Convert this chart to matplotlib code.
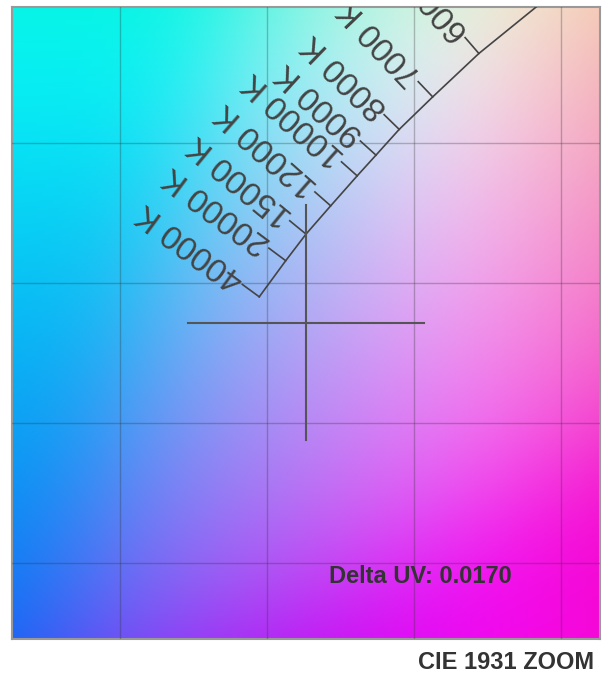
import numpy as np
import matplotlib
matplotlib.use("Agg")
import matplotlib.pyplot as plt

# Planckian locus points (CIE 1931 xy)
cct_k = [40000, 20000, 15000, 12000, 10000, 9000, 8000, 7000, 6000, 5000]
locus_x = [0.2474, 0.2564, 0.2633, 0.2717, 0.2807, 0.2871, 0.2950, 0.3064, 0.3221, 0.3451]
locus_y = [0.2451, 0.2580, 0.2675, 0.2776, 0.2883, 0.2957, 0.3049, 0.3165, 0.3320, 0.3516]
labelled = [40000, 20000, 15000, 12000, 10000, 9000, 8000, 7000, 6000]

# measured point and view
point_x, point_y = 0.2633, 0.2358
cross_dx, cross_dy = 0.040, 0.042
delta_uv = 0.0170
x_lim = (0.1633, 0.3633)
y_lim = (0.1229, 0.3486)

fig = plt.figure(figsize=(6.04, 6.77), dpi=100)
ax = fig.add_axes([12 / 604, 1 - 639 / 677, 588 / 604, 632 / 677])
ax.set_xlim(*x_lim)
ax.set_ylim(*y_lim)

# chromaticity background: xy -> XYZ (Y=1) -> sRGB, normalised, then blurred
step = 0.0008
pad = 90
gx = np.arange(x_lim[0] - pad * step, x_lim[1] + pad * step, step)
gy = np.arange(y_lim[0] - pad * step, y_lim[1] + pad * step, step)
X, Y = np.meshgrid(gx, gy)
XX = X / Y
ZZ = (1 - X - Y) / Y
M = np.array([[3.2406, -1.5372, -0.4986],
              [-0.9689, 1.8758, 0.0415],
              [0.0557, -0.2040, 1.0570]])
xyz = np.stack([XX, np.ones_like(XX), ZZ], axis=-1)
rgb = xyz @ M.T
rgb = np.clip(rgb, 0, None)
rgb = rgb / rgb.max(axis=-1, keepdims=True)
rgb = np.where(rgb <= 0.0031308, 12.92 * rgb, 1.055 * rgb ** (1 / 2.4) - 0.055)

sigma = 24
kx = np.arange(-3 * sigma, 3 * sigma + 1)
kern = np.exp(-kx ** 2 / (2 * sigma ** 2))
kern /= kern.sum()
for c in range(3):
    ch = rgb[..., c]
    ch = np.apply_along_axis(lambda r: np.convolve(r, kern, mode="same"), 0, ch)
    ch = np.apply_along_axis(lambda r: np.convolve(r, kern, mode="same"), 1, ch)
    rgb[..., c] = ch
rgb = rgb[pad:-pad, pad:-pad]
rgb = np.clip(rgb * 0.93 + 0.03, 0, 1)
ax.imshow(rgb, extent=(x_lim[0], x_lim[1], y_lim[0], y_lim[1]), origin="lower",
          aspect="auto", interpolation="bilinear", zorder=0)

ax.set_xticks([0.20, 0.25, 0.30, 0.35])
ax.set_yticks([0.15, 0.20, 0.25, 0.30])
ax.tick_params(length=0, labelleft=False, labelbottom=False)
ax.grid(True, color="#333333", alpha=0.3, linewidth=1)
ax.set_axisbelow(False)
for s in ax.spines.values():
    s.set_color("#999999")
    s.set_linewidth(1.5)

# locus
ax.plot(locus_x, locus_y, color="#444444", lw=1.2, zorder=3)

# ticks and labels, perpendicular in pixel space
pts = ax.transData.transform(np.column_stack([locus_x, locus_y]))
inv = ax.transData.inverted()
tick_len = 21
for i, k in enumerate(cct_k):
    if k not in labelled:
        continue
    a = pts[max(i - 1, 0)]
    b = pts[min(i + 1, len(pts) - 1)]
    t = (b - a) / np.hypot(*(b - a))
    n = np.array([-t[1], t[0]])
    end = pts[i] + n * tick_len
    d0 = inv.transform(pts[i])
    d1 = inv.transform(end)
    ax.plot([d0[0], d1[0]], [d0[1], d1[1]], color="#444444", lw=1.2, zorder=3)
    lab = inv.transform(end + n * 2)
    ang = np.degrees(np.arctan2(n[1], n[0]))
    ax.text(lab[0], lab[1], f"{k} K", rotation=ang, rotation_mode="anchor",
            ha="left", va="center", fontsize=24, color="#444444",
            family="Liberation Sans", clip_on=True, zorder=4)

# crosshair
ax.plot([point_x - cross_dx, point_x + cross_dx], [point_y, point_y],
        color="#555555", lw=1.5, zorder=3)
ax.plot([point_x, point_x], [point_y - cross_dy, point_y + cross_dy],
        color="#555555", lw=1.5, zorder=3)

ax.text(0.539, 0.0886, f"Delta UV: {delta_uv:.4f}", transform=ax.transAxes,
        ha="left", va="baseline", fontsize=17, fontweight="bold",
        color="#333333", family="Liberation Sans", zorder=5)

fig.text(0.9834, 1 - 669 / 677, "CIE 1931 ZOOM", ha="right", va="baseline",
         fontsize=17, fontweight="bold", color="#333333", family="Liberation Sans")

fig.savefig("out.png", dpi=100)
